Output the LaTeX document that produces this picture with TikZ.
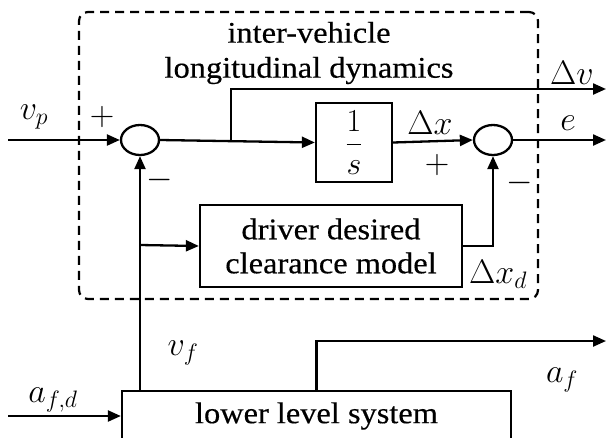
\documentclass[tikz,border=0pt]{standalone}
\usepackage{fix-cm}
\usepackage{fontspec}
\setmainfont[FakeStretch=1.08,FakeBold=0.4]{Liberation Serif}
\usetikzlibrary{arrows.meta,shapes.geometric}
\begin{document}
\begin{tikzpicture}[x=1pt,y=-1pt,line width=2.3pt,
  font=\rmfamily\fontsize{30}{34}\selectfont,
  >={Triangle[length=13pt,width=11pt]},
  blk/.style={draw,line width=2.3pt,inner sep=0pt,align=center},
  sumj/.style={draw,ellipse,minimum width=38pt,minimum height=30pt,inner sep=0pt,line width=2.3pt},
  lbl/.style={inner sep=0pt,font=\rmfamily\fontsize{34}{38}\selectfont},
  grp/.style={draw,dash pattern=on 9pt off 6pt,rounded corners=9pt,line width=2.2pt}]
\useasboundingbox (0,0) rectangle (607,437);
\clip (0,0) rectangle (607,437);
\fill[white] (0,0) rectangle (607,437);
% group
\node[grp,minimum width=459pt,minimum height=287pt] (grpbox) at (308.5,155.5) {};
\node[inner sep=0pt,align=center] (title) at (309,53) {inter-vehicle\\[1pt]longitudinal dynamics};
% blocks
\node[sumj] (s1) at (140,140) {};
\node[sumj] (s2) at (493,140) {};
\node[blk,minimum width=76pt,minimum height=79pt,font=\fontsize{32}{36}\selectfont] (int) at (354,142.5) {$\displaystyle\frac{1}{s}$};
\node[blk,minimum width=262pt,minimum height=82pt] (drv) at (331,246) {driver desired\\clearance model};
\node[blk,minimum width=389pt,minimum height=50pt] (low) at (316.5,416) {lower level system};
% coordinates
\coordinate (vpin) at (8,140);
\coordinate (dvout) at (606,89);
\coordinate (eout) at (606,140);
\coordinate (afdin) at (8,416);
\coordinate (afout) at (606,341);
\coordinate (br1) at (231,140);
\coordinate (br2) at (140,245);
\coordinate (fb) at (140,391);
% wires
\draw[->] (vpin) -- (s1.west);
\draw[->] (s1.east) -- (int.west);
\draw[->] (br1) |- (dvout);
\draw[->] (int.east) -- (s2.west);
\draw[->] (s2.east) -- (eout);
\draw[->] (drv.east) -| (s2.south);
\draw[->] (fb) -- (s1.south);
\draw[->] (br2) -- (drv.west);
\draw[->] (afdin) -- (low.west);
\draw[->] (low.north) |- (afout);
% labels
\node[lbl] (lvp) at (34,117) {$v_p$};
\node[lbl] (lp1) at (102,117) {$+$};
\node[lbl] (lm1) at (160,180) {$-$};
\node[lbl] (ldv) at (572,73) {$\Delta v$};
\node[lbl] (ldx) at (430,123) {$\Delta x$};
\node[lbl] (lp2) at (437,165) {$+$};
\node[lbl] (le) at (568,123) {$e$};
\node[lbl] (lm2) at (520,183) {$-$};
\node[lbl] (ldxd) at (498,274) {$\Delta x_d$};
\node[lbl] (lvf) at (183,353) {$v_f$};
\node[lbl] (lafd) at (53,400) {$a_{f,d}$};
\node[lbl] (laf) at (562,380) {$a_f$};
\end{tikzpicture}
\end{document}
